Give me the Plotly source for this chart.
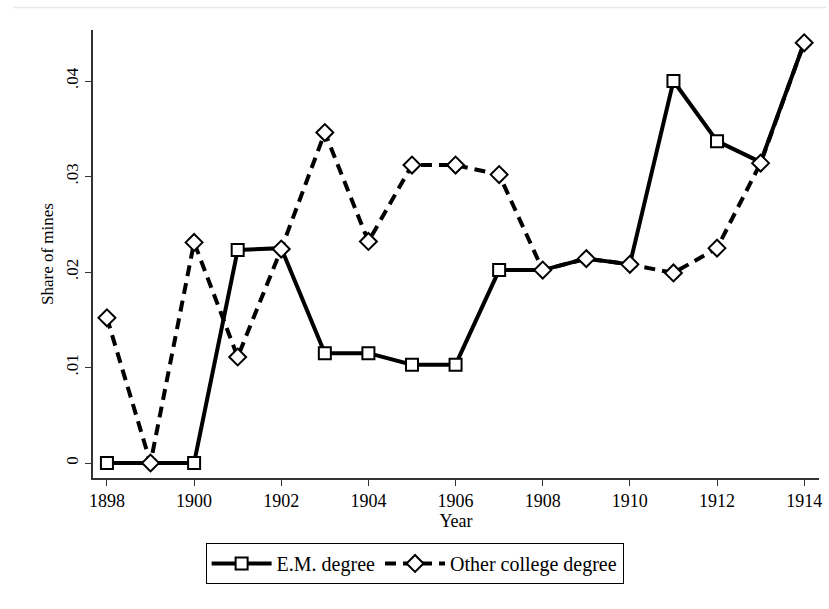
import plotly.graph_objects as go

years = list(range(1898, 1915))
em_degree = [0.0, 0.0, 0.0, 0.0223, 0.0225, 0.0115, 0.0115, 0.0103, 0.0103,
             0.0202, 0.0202, 0.0214, 0.0208, 0.0400, 0.0337, 0.0315, 0.0440]
other_degree = [0.0152, 0.0, 0.0231, 0.0111, 0.0224, 0.0346, 0.0232, 0.0312, 0.0312,
                0.0302, 0.0202, 0.0214, 0.0208, 0.0199, 0.0225, 0.0314, 0.0440]
x_ticks = list(range(1898, 1915, 2))
y_ticks = [0, 0.01, 0.02, 0.03, 0.04]
y_tick_labels = ["0", ".01", ".02", ".03", ".04"]

serif = "Liberation Serif, Times New Roman, serif"

# squares sitting under a diamond are covered by it
covered = [abs(a - b) < 0.0005 for a, b in zip(em_degree, other_degree)]
square_fill = ["rgba(0,0,0,0)" if c else "white" for c in covered]
square_edge = ["rgba(0,0,0,0)" if c else "black" for c in covered]

fig = go.Figure()
fig.add_trace(go.Scatter(
    x=years, y=em_degree, name="E.M. degree", mode="lines+markers",
    line=dict(color="black", width=4),
    marker=dict(symbol="square", size=12, color=square_fill,
                line=dict(color=square_edge, width=2)),
))
fig.add_trace(go.Scatter(
    x=years, y=other_degree, name="Other college degree", mode="lines+markers",
    line=dict(color="black", width=4, dash="11px,7px"),
    marker=dict(symbol="diamond", size=13, color="white",
                line=dict(color="black", width=2)),
))

fig.update_layout(
    width=829, height=609,
    margin=dict(l=93, r=7, t=30, b=131),
    paper_bgcolor="white", plot_bgcolor="white",
    font=dict(family=serif, size=18, color="black"),
    showlegend=True,
    legend=dict(
        orientation="h", x=0.443, xanchor="center",
        y=-0.145, yanchor="top",
        bordercolor="black", borderwidth=1, font=dict(family=serif, size=20),
        itemwidth=60, traceorder="normal",
    ),
    xaxis=dict(
        range=[1897.68, 1914.34], tickvals=x_ticks, ticks="outside",
        ticklen=6, tickwidth=1, tickcolor="#333", showline=True,
        linecolor="#333", linewidth=1.5, showgrid=False, zeroline=False,
        title=dict(text="Year", standoff=2, font=dict(size=18)),
        tickfont=dict(size=18),
    ),
    yaxis=dict(
        range=[-0.00157, 0.04534], tickvals=y_ticks, ticktext=y_tick_labels,
        tickangle=-90, ticks="outside", ticklen=6, tickwidth=1,
        tickcolor="#333", showline=True, linecolor="#333", linewidth=1.5,
        showgrid=False, zeroline=False,
        title=dict(text="Share of mines", standoff=6, font=dict(size=17)),
        tickfont=dict(size=17),
    ),
)

# faint frame line along the top of the graph region
fig.add_shape(type="line", xref="paper", yref="paper",
              x0=-0.11, x1=1.01, y0=1.05, y1=1.05,
              line=dict(color="#e4eaea", width=1.5))

fig.write_html("out.html")
